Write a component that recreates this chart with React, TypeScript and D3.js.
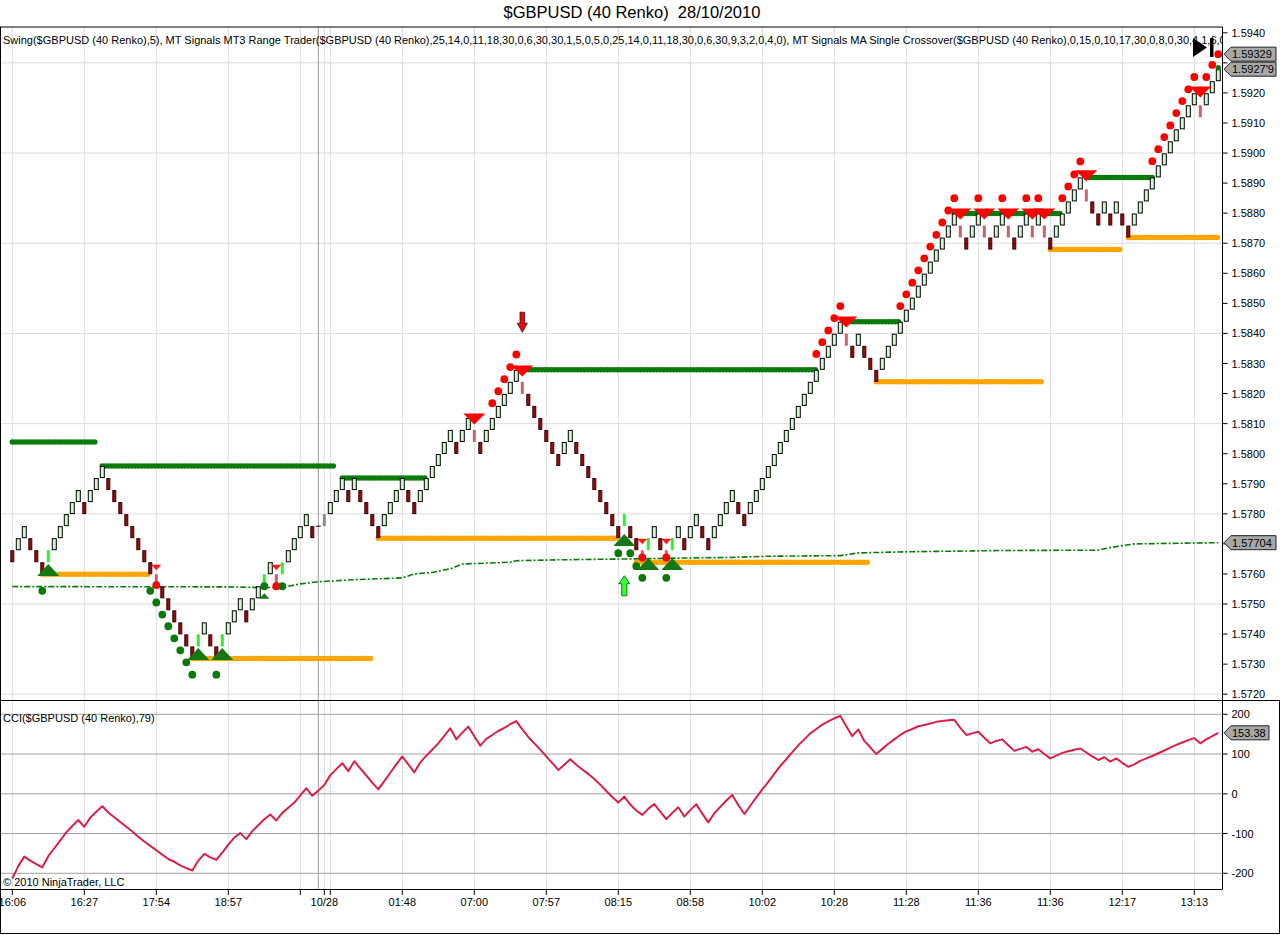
import React from 'react';
import * as d3 from 'd3';

// ---------- DATA ----------
// Renko brick closes (40 Renko, brick = 0.0004)
const closes = [
  1.57639, 1.57719, 1.57759, 1.57679, 1.57639, 1.57599, 1.57679, 1.57719, 1.57759, 1.57799,
  1.57839, 1.57879, 1.57799, 1.57879, 1.57919, 1.57959, 1.57879, 1.57839, 1.57799, 1.57759,
  1.57719, 1.57679, 1.57639, 1.57599, 1.57559, 1.57519, 1.57479, 1.57439, 1.57399, 1.57359,
  1.57319, 1.57399, 1.57439, 1.57359, 1.57319, 1.57399, 1.57439, 1.57479, 1.57519, 1.57439,
  1.57519, 1.57559, 1.57599, 1.57639, 1.57559, 1.57639, 1.57679, 1.57719, 1.57759, 1.57799,
  1.57719, 1.57759, 1.57799, 1.57839, 1.57879, 1.57919, 1.57839, 1.57919, 1.57839, 1.57799,
  1.57759, 1.57719, 1.57799, 1.57839, 1.57879, 1.57919, 1.57839, 1.57799, 1.57879, 1.57919,
  1.57959, 1.57999, 1.58039, 1.58079, 1.57999, 1.58079, 1.58119, 1.58039, 1.57999, 1.58079,
  1.58119, 1.58159, 1.58199, 1.58239, 1.58279, 1.58199, 1.58159, 1.58119, 1.58079, 1.58039,
  1.57999, 1.57959, 1.58039, 1.58079, 1.57999, 1.57959, 1.57919, 1.57879, 1.57839, 1.57799,
  1.57759, 1.57719, 1.57799, 1.57719, 1.57679, 1.57639, 1.57719, 1.57759, 1.57679, 1.57639,
  1.57719, 1.57759, 1.57679, 1.57759, 1.57799, 1.57719, 1.57679, 1.57759, 1.57799, 1.57839,
  1.57879, 1.57799, 1.57759, 1.57839, 1.57879, 1.57919, 1.57959, 1.57999, 1.58039, 1.58079,
  1.58119, 1.58159, 1.58199, 1.58239, 1.58279, 1.58319, 1.58359, 1.58399, 1.58439, 1.58359,
  1.58319, 1.58399, 1.58319, 1.58279, 1.58239, 1.58319, 1.58359, 1.58399, 1.58439, 1.58479,
  1.58519, 1.58559, 1.58599, 1.58639, 1.58679, 1.58719, 1.58759, 1.58799, 1.58719, 1.58679,
  1.58759, 1.58799, 1.58719, 1.58679, 1.58759, 1.58799, 1.58719, 1.58679, 1.58759, 1.58799,
  1.58719, 1.58799, 1.58719, 1.58679, 1.58759, 1.58799, 1.58839, 1.58879, 1.58919, 1.58839,
  1.58799, 1.58759, 1.58839, 1.58759, 1.58839, 1.58759, 1.58719, 1.58799, 1.58839, 1.58879,
  1.58919, 1.58959, 1.58999, 1.59039, 1.59079, 1.59119, 1.59159, 1.59199, 1.59119, 1.59199,
  1.59239, 1.59279,
];
const firstOpen = 1.57679;
const brickSize = 0.0004;
const dojiBars = [51];
const limeBars = [6, 31, 35, 42, 45, 102, 106, 110];
const pinkBars = [24, 44, 77, 85, 105, 109, 139, 158, 162, 166, 170, 172, 179, 198];
const grayBars = [52];

// CCI(79)
const cciValues = [
  -213, -182, -158, -168, -177, -185, -157, -137, -117, -97,
  -81, -66, -83, -60, -45, -31, -47, -59, -71, -83,
  -95, -108, -120, -131, -142, -153, -164, -171, -180, -187,
  -193, -168, -151, -160, -166, -148, -128, -110, -99, -114,
  -94, -79, -64, -52, -67, -48, -35, -22, -4, 14,
  -5, 8, 22, 47, 62, 77, 57, 82, 64, 46,
  28, 11, 32, 53, 74, 94, 74, 54, 79, 96,
  111, 127, 146, 165, 137, 154, 169, 145, 121, 138,
  148, 158, 166, 175, 183, 162, 143, 127, 111, 94,
  77, 60, 73, 87, 73, 61, 50, 37, 23, 7,
  -8, -22, -7, -27, -42, -53, -38, -26, -45, -64,
  -48, -34, -57, -41, -26, -50, -72, -49, -33, -17,
  -3, -28, -51, -30, -9, 11, 30, 50, 70, 87,
  105, 122, 137, 152, 163, 174, 182, 190, 196, 170,
  145, 162, 133, 117, 100, 113, 126, 137, 148, 157,
  163, 170, 173, 177, 181, 183, 185, 186, 166, 148,
  152, 156, 141, 127, 133, 137, 122, 108, 113, 118,
  106, 112, 100, 89, 96, 103, 107, 111, 114, 104,
  94, 85, 92, 81, 89, 78, 68, 74, 83, 89,
  95, 102, 109, 116, 123, 129, 135, 140, 127, 137,
  145, 153.38,
];

// Swing highs (green) and lows (orange)
const greenSwingStart = [0, 15, 55, 86, 140, 157, 179];
const greenSwingEnd = [14, 54, 69, 134, 148, 175, 190];
const greenSwingPrice = [1.58039, 1.57959, 1.57919, 1.58279, 1.58439, 1.58799, 1.58919];
const orangeSwingStart = [5, 30, 61, 104, 144, 173, 186];
const orangeSwingEnd = [23, 60, 101, 143, 172, 185, 201];
const orangeSwingPrice = [1.57599, 1.57319, 1.57719, 1.57639, 1.58239, 1.58679, 1.58719];

// MA single crossover line (dash-dot)
const maBars = [0, 36, 41, 45, 48, 51, 56, 65, 67, 70, 73, 75, 83, 84, 91, 103, 112, 120, 126, 138, 141, 150, 165, 181, 183, 187, 201];
const maValues = [1.57558, 1.57557, 1.57555, 1.57555, 1.57567, 1.57574, 1.5758, 1.57587, 1.576, 1.57605, 1.57617, 1.57633, 1.57639, 1.57644, 1.57647, 1.5765, 1.57653, 1.57655, 1.57659, 1.57661, 1.5767, 1.57674, 1.57678, 1.57679, 1.57688, 1.577, 1.57704];

// MT Signals markers
const redDotBars = [24, 44, 80, 81, 82, 83, 84, 105, 109, 134, 135, 136, 137, 138, 148, 149, 150, 151, 152, 153, 154, 155, 156, 157, 161, 165, 169, 171, 175, 176, 177, 178, 190, 191, 192, 193, 194, 195, 196, 197, 199, 200, 201];
const redDotPrices = [1.57563, 1.57559, 1.58168, 1.58208, 1.58248, 1.58288, 1.5833, 1.57655, 1.57655, 1.58332, 1.58371, 1.5841, 1.58451, 1.58491, 1.58491, 1.5853, 1.58569, 1.5861, 1.5865, 1.58689, 1.58728, 1.58769, 1.58809, 1.5885, 1.5885, 1.5885, 1.5885, 1.5885, 1.5885, 1.58889, 1.58929, 1.58972, 1.58973, 1.59013, 1.59053, 1.59092, 1.59133, 1.59173, 1.59212, 1.59253, 1.59253, 1.59293, 1.59329];
const bigDownBars = [77, 85, 139, 158, 162, 166, 170, 172, 179, 198];
const bigDownApex = [1.58097, 1.58257, 1.5842, 1.58779, 1.58779, 1.58779, 1.58779, 1.58779, 1.58906, 1.59185];
const smallDownBars = [24, 44, 105, 109];
const smallDownPrices = [1.57622, 1.57622, 1.57709, 1.57709];
const bigUpBars = [6, 31, 35, 102, 106, 110];
const bigUpApex = [1.57633, 1.57354, 1.57354, 1.57733, 1.57653, 1.57653];
const smallUpBars = [42];
const smallUpPrices = [1.57526];
const greenDotBars = [5, 23, 24, 25, 26, 27, 28, 29, 30, 34, 42, 45, 101, 103, 104, 105, 109];
const greenDotPrices = [1.57544, 1.57544, 1.57505, 1.57465, 1.57426, 1.57386, 1.57346, 1.57306, 1.57265, 1.57265, 1.57559, 1.57559, 1.57669, 1.57669, 1.57626, 1.57587, 1.57587];
const lastDotBars = [201];
const lastDotPrices = [1.59284];
const downArrowBars = [85];
const downArrowTips = [1.58404];
const upArrowBars = [102];
const upArrowTips = [1.57594];

// Axes
const priceTicks = [1.572, 1.573, 1.574, 1.575, 1.576, 1.577, 1.578, 1.579, 1.58, 1.581, 1.582, 1.583, 1.584, 1.585, 1.586, 1.587, 1.588, 1.589, 1.59, 1.591, 1.592, 1.593, 1.594];
const priceGrid = [1.572, 1.575, 1.578, 1.581, 1.584, 1.587, 1.59, 1.593];
const cciTicks = [200, 100, 0, -100, -200];
const timeTickBars = [0, 12, 24, 36, 48, 52, 53, 65, 77, 89, 101, 113, 125, 137, 149, 161, 173, 185, 197];
const timeTickLabels = ['16:06', '16:27', '17:54', '18:57', '', '10/28', '', '01:48', '07:00', '07:57', '08:15', '08:58', '10:02', '10:28', '11:28', '11:36', '11:36', '12:17', '13:13'];
const sessionBreakBars = [51];
const priceMarkers = [1.59329, 1.59279, 1.57704];
const priceMarkerLabels = ['1.59329', "1.5927'9", '1.57704'];

const titleText = '$GBPUSD (40 Renko)  28/10/2010';
const legendText = 'Swing($GBPUSD (40 Renko),5), MT Signals MT3 Range Trader($GBPUSD (40 Renko),25,14,0,11,18,30,0,6,30,30,1,5,0,5,0,25,14,0,11,18,30,0,6,30,9,3,2,0,4,0), MT Signals MA Single Crossover($GBPUSD (40 Renko),0,15,0,10,17,30,0,8,0,30,4,1,6,0,0)';
const cciLabel = 'CCI($GBPUSD (40 Renko),79)';

// ---------- LAYOUT ----------
const W = 1280;
const H = 935;
const axisX = 1222.5;
const mainTop = 27;
const mainBottom = 700;
const cciBottom = 889;
const FONT = "'Liberation Sans', Arial, sans-serif";

export default function App() {
  const x = d3.scaleLinear().domain([0, closes.length - 1]).range([12.3, 12.3 + 6 * (closes.length - 1)]);
  const y = d3.scaleLinear().domain([1.572, 1.594]).range([694.2, 32.8]);
  const yc = d3.scaleLinear().domain([-200, 200]).range([873.3, 714.3]);

  const bars = closes.map((c, i) => {
    let o: number;
    if (dojiBars.includes(i)) o = c;
    else if (i === 0) o = firstOpen;
    else o = c > closes[i - 1] ? c - brickSize : c + brickSize;
    return { i, o, c };
  });

  const maLine = d3.line<number>().x((_, k) => x(maBars[k])).y((v) => y(v));
  const cciLine = d3.line<number>().x((_, k) => x(k)).y((v) => yc(v));

  const markerYs = priceMarkers.map((p) => y(p));
  // axis labels that sit under a marker box are hidden by it (as in the reference)
  const visiblePriceTicks = priceTicks.filter((p) => markerYs.every((my) => Math.abs(my - y(p)) > 9));

  const swing = (starts: number[], ends: number[], prices: number[], color: string, key: string) =>
    starts.map((s, k) => (
      <line key={key + k} x1={x(s)} x2={x(ends[k])} y1={y(prices[k])} y2={y(prices[k])}
        stroke={color} strokeWidth={5.5} strokeLinecap="round" strokeDasharray="0 3.3" />
    ));

  const markerBox = (cy: number, label: string, key: string, w = 52) => {
    const tx = axisX + 1.5;
    return (
      <g key={key}>
        <path d={`M${tx},${cy} L${tx + 7},${cy - 7} L${tx + w},${cy - 7} L${tx + w},${cy + 7} L${tx + 7},${cy + 7} Z`}
          fill="#a8a8a8" stroke="#222" strokeWidth={1} />
        <text x={tx + 8} y={cy + 4} fontSize={11} fontFamily={FONT} fill="#000">{label}</text>
      </g>
    );
  };

  return (
    <div>
      <style>{`body{margin:0;background:#fff}`}</style>
      <svg width={W} height={H} style={{ display: 'block', background: '#fff' }}>
        <defs>
          <clipPath id="mainClip"><rect x={0} y={mainTop} width={axisX} height={mainBottom - mainTop} /></clipPath>
          <clipPath id="cciClip"><rect x={0} y={mainBottom + 1} width={axisX} height={cciBottom - mainBottom - 1} /></clipPath>
        </defs>

        {/* Title */}
        <text x={632} y={18} textAnchor="middle" fontSize={16.5} fontFamily={FONT} fill="#000" style={{ whiteSpace: 'pre' }}>{titleText}</text>

        {/* ---------- MAIN PANEL ---------- */}
        <g clipPath="url(#mainClip)">
          {priceGrid.map((p) => (
            <line key={'hg' + p} x1={0} x2={axisX} y1={y(p)} y2={y(p)} stroke="#dcdcdc" strokeWidth={1} />
          ))}
          {timeTickBars.map((b) => (
            <line key={'vg' + b} x1={x(b)} x2={x(b)} y1={mainTop} y2={mainBottom} stroke="#dcdcdc" strokeWidth={1} />
          ))}
          {sessionBreakBars.map((b) => (
            <line key={'sb' + b} x1={x(b)} x2={x(b)} y1={mainTop} y2={mainBottom} stroke="#9a9a9a" strokeWidth={1} />
          ))}

          {swing(greenSwingStart, greenSwingEnd, greenSwingPrice, '#0a7a0a', 'gs')}
          {swing(orangeSwingStart, orangeSwingEnd, orangeSwingPrice, '#ffa500', 'os')}

          <path d={maLine(maValues) || ''} fill="none" stroke="#0a7a0a" strokeWidth={1.6} strokeDasharray="6 2 2 2" />

          {/* Renko bricks */}
          {bars.map(({ i, o, c }) => {
            const cx = x(i);
            if (o === c) {
              return <line key={'b' + i} x1={cx - 2.5} x2={cx + 2.5} y1={y(c)} y2={y(c)} stroke="#000" strokeWidth={1} />;
            }
            const top = y(Math.max(o, c));
            const bot = y(Math.min(o, c));
            if (limeBars.includes(i)) {
              return <rect key={'b' + i} x={cx - 1.5} y={top} width={3} height={bot - top} fill="#2ef02e" />;
            }
            if (pinkBars.includes(i)) {
              return <rect key={'b' + i} x={cx - 1.5} y={top} width={3} height={bot - top} fill="#c9626c" />;
            }
            if (grayBars.includes(i)) {
              return <rect key={'b' + i} x={cx - 1.5} y={top} width={3} height={bot - top} fill="#8c8c8c" />;
            }
            if (c > o) {
              return <rect key={'b' + i} x={cx - 2} y={top + 0.5} width={4} height={bot - top - 1} fill="#d2f5d2" stroke="#000" strokeWidth={1} />;
            }
            return <rect key={'b' + i} x={cx - 1.5} y={top + 0.5} width={3} height={bot - top - 1} fill="#8e1010" stroke="#3a0000" strokeWidth={1} />;
          })}

          {/* Green dots */}
          {greenDotBars.map((b, k) => (
            <circle key={'gd' + k} cx={x(b)} cy={y(greenDotPrices[k])} r={3.9} fill="#0a7a0a" />
          ))}
          {lastDotBars.map((b, k) => (
            <circle key={'ld' + k} cx={x(b)} cy={y(lastDotPrices[k])} r={2.6} fill="#0a7a0a" />
          ))}

          {/* Big green up triangles */}
          {bigUpBars.map((b, k) => {
            const cx = x(b);
            const ay = y(bigUpApex[k]);
            return <path key={'gu' + k} d={`M${cx},${ay} L${cx + 11},${ay + 12} L${cx - 11},${ay + 12} Z`} fill="#137a13" />;
          })}
          {smallUpBars.map((b, k) => {
            const cx = x(b);
            const cy = y(smallUpPrices[k]);
            return <path key={'su' + k} d={`M${cx},${cy - 3} L${cx + 5},${cy + 2.5} L${cx - 5},${cy + 2.5} Z`} fill="#137a13" />;
          })}

          {/* Red dots */}
          {redDotBars.map((b, k) => (
            <circle key={'rd' + k} cx={x(b)} cy={y(redDotPrices[k])} r={3.9} fill="#ff0000" />
          ))}

          {/* Big red down triangles */}
          {bigDownBars.map((b, k) => {
            const cx = x(b);
            const ay = y(bigDownApex[k]);
            return <path key={'rdn' + k} d={`M${cx},${ay} L${cx + 11},${ay - 11} L${cx - 11},${ay - 11} Z`} fill="#ff0000" />;
          })}
          {smallDownBars.map((b, k) => {
            const cx = x(b);
            const cy = y(smallDownPrices[k]);
            return <path key={'sd' + k} d={`M${cx},${cy + 3} L${cx + 5},${cy - 2.5} L${cx - 5},${cy - 2.5} Z`} fill="#ff1a1a" />;
          })}

          {/* Arrows */}
          {downArrowBars.map((b, k) => {
            const cx = x(b);
            const ty = y(downArrowTips[k]);
            return <path key={'da' + k}
              d={`M${cx},${ty} L${cx + 5},${ty - 9} L${cx + 2.3},${ty - 9} L${cx + 2.3},${ty - 20} L${cx - 2.3},${ty - 20} L${cx - 2.3},${ty - 9} L${cx - 5},${ty - 9} Z`}
              fill="#e01010" stroke="#4a0000" strokeWidth={0.8} />;
          })}
          {upArrowBars.map((b, k) => {
            const cx = x(b);
            const ty = y(upArrowTips[k]);
            return <path key={'ua' + k}
              d={`M${cx},${ty} L${cx + 5.5},${ty + 8} L${cx + 2.6},${ty + 8} L${cx + 2.6},${ty + 20} L${cx - 2.6},${ty + 20} L${cx - 2.6},${ty + 8} L${cx - 5.5},${ty + 8} Z`}
              fill="#33ff33" stroke="#005500" strokeWidth={0.8} />;
          })}

          {/* Legend text */}
          <text x={3} y={44} fontSize={11} fontFamily={FONT} fill="#000">{legendText}</text>

          {/* End-of-chart marker */}
          <path d="M1193,38 L1207,47.5 L1193,57 Z" fill="#000" />
          <rect x={1210} y={38} width={3.5} height={19} fill="#000" />
        </g>

        {/* ---------- CCI PANEL ---------- */}
        <g clipPath="url(#cciClip)">
          {timeTickBars.map((b) => (
            <line key={'cvg' + b} x1={x(b)} x2={x(b)} y1={mainBottom} y2={cciBottom} stroke="#dcdcdc" strokeWidth={1} />
          ))}
          {sessionBreakBars.map((b) => (
            <line key={'csb' + b} x1={x(b)} x2={x(b)} y1={mainBottom} y2={cciBottom} stroke="#9a9a9a" strokeWidth={1} />
          ))}
          {cciTicks.map((v) => (
            <line key={'chg' + v} x1={0} x2={axisX} y1={yc(v)} y2={yc(v)} stroke="#a0a0a0" strokeWidth={1} />
          ))}
          <path d={cciLine(cciValues) || ''} fill="none" stroke="#d8204a" strokeWidth={2} strokeLinejoin="round" />
          <text x={3} y={722} fontSize={11} fontFamily={FONT} fill="#000">{cciLabel}</text>
          <text x={3} y={886} fontSize={11} fontFamily={FONT} fill="#000">© 2010 NinjaTrader, LLC</text>
        </g>

        {/* ---------- FRAMES ---------- */}
        <line x1={0} x2={axisX} y1={mainTop} y2={mainTop} stroke="#000" strokeWidth={1} />
        <line x1={0.5} x2={0.5} y1={mainTop} y2={933} stroke="#000" strokeWidth={1} />
        <line x1={axisX} x2={axisX} y1={mainTop} y2={cciBottom} stroke="#000" strokeWidth={1} />
        <line x1={0} x2={W} y1={mainBottom + 0.5} y2={mainBottom + 0.5} stroke="#000" strokeWidth={1} />
        <line x1={0} x2={axisX} y1={cciBottom + 0.5} y2={cciBottom + 0.5} stroke="#000" strokeWidth={1} />
        <line x1={1279.5} x2={1279.5} y1={mainBottom} y2={933} stroke="#000" strokeWidth={1} />
        <line x1={0} x2={W} y1={933.5} y2={933.5} stroke="#000" strokeWidth={1} />

        {/* Price axis */}
        {priceTicks.map((p) => (
          <line key={'ptl' + p} x1={axisX} x2={axisX + 5} y1={y(p)} y2={y(p)} stroke="#000" strokeWidth={1} />
        ))}
        {visiblePriceTicks.map((p) => (
          <text key={'ptt' + p} x={axisX + 9} y={y(p) + 4} fontSize={11} fontFamily={FONT} fill="#000">{p.toFixed(4)}</text>
        ))}
        {priceMarkers.map((p, k) => markerBox(y(p), priceMarkerLabels[k], 'pm' + k))}

        {/* CCI axis */}
        {cciTicks.map((v) => (
          <g key={'ct' + v}>
            <line x1={axisX} x2={axisX + 5} y1={yc(v)} y2={yc(v)} stroke="#000" strokeWidth={1} />
            <text x={axisX + 9} y={yc(v) + 4} fontSize={11} fontFamily={FONT} fill="#000">{v}</text>
          </g>
        ))}
        {markerBox(yc(cciValues[cciValues.length - 1]), cciValues[cciValues.length - 1].toFixed(2), 'cm', 45)}

        {/* Time axis */}
        {timeTickBars.map((b, k) => (
          <g key={'tt' + b}>
            <line x1={x(b)} x2={x(b)} y1={cciBottom} y2={cciBottom + 6} stroke="#000" strokeWidth={1} />
            {timeTickLabels[k] && (
              <text x={x(b)} y={906} textAnchor="middle" fontSize={11} fontFamily={FONT} fill="#000">{timeTickLabels[k]}</text>
            )}
          </g>
        ))}
      </svg>
    </div>
  );
}
